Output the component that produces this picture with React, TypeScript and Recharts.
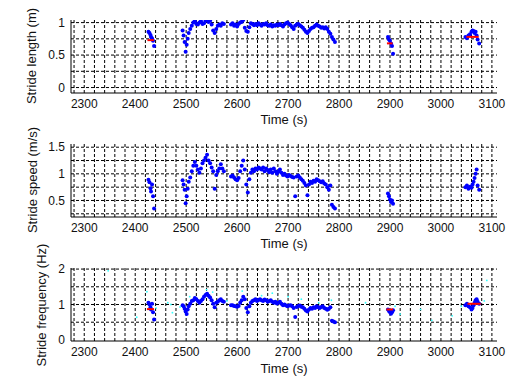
import React from 'react';
import { ScatterChart, Scatter, XAxis, YAxis, ReferenceLine } from 'recharts';

// stride start times (s), shared by the three panels
const strideTimes = [
  2426, 2428, 2430, 2431, 2433, 2435, 2437,
  2493, 2495, 2497, 2499, 2501, 2503, 2505, 2508, 2511, 2514, 2517, 2520, 2523, 2526, 2529, 2532,
  2535, 2538, 2541, 2544, 2547, 2550, 2553, 2556, 2559, 2562, 2565, 2568, 2571, 2574,
  2588, 2591, 2594, 2597, 2600, 2603, 2606, 2609, 2612, 2615, 2618, 2621, 2624, 2627, 2630, 2633,
  2636, 2639, 2642, 2645, 2648, 2651, 2654, 2657, 2660, 2663, 2666, 2669, 2672, 2675, 2678, 2681,
  2684, 2687, 2690, 2693, 2696, 2699, 2702, 2705, 2708, 2711, 2714, 2717, 2720, 2723, 2726, 2729,
  2732, 2735, 2738, 2741, 2744, 2747, 2750, 2753, 2756, 2759, 2762, 2765, 2768, 2771, 2774, 2777,
  2780, 2783, 2786, 2789, 2792,
  2896, 2898, 2900, 2902, 2904, 2906,
  3048, 3051, 3054, 3057, 3060, 3062, 3064, 3066, 3068, 3070, 3072, 3075,
];

const strideLength = [
  0.86, 0.84, 0.81, 0.78, 0.76, 0.72, 0.64,
  0.88, 0.8, 0.7, 0.55, 0.66, 0.75, 0.84, 0.9, 0.95, 1.0, 1.02, 0.98, 0.97, 1.0, 1.02, 0.98,
  0.99, 1.03, 1.04, 1.01, 1.03, 0.97, 0.88, 0.84, 0.9, 0.95, 0.97, 0.95, 0.99, 0.98,
  0.97, 0.99, 0.95, 0.97, 0.94, 0.98, 1.0, 1.01, 1.04, 0.92, 0.87, 0.86, 0.93, 0.99, 0.98, 0.96,
  0.98, 0.96, 0.99, 0.97, 0.95, 0.98, 0.97, 0.99, 0.96, 0.95, 0.97, 0.94, 0.96, 0.95, 0.97, 0.96,
  0.98, 0.96, 0.94, 0.97, 0.99, 1.0, 0.98, 0.96, 0.93, 0.9, 0.95, 0.97, 0.98, 0.96, 0.94, 0.92,
  0.89, 0.86, 0.84, 0.87, 0.9, 0.92, 0.93, 0.95, 0.97, 0.95, 0.94, 0.92, 0.93, 0.91, 0.93, 0.9,
  0.86, 0.83, 0.78, 0.74, 0.7,
  0.78, 0.74, 0.72, 0.68, 0.64, 0.52,
  0.78, 0.76, 0.8, 0.82, 0.86, 0.88, 0.87, 0.84, 0.86, 0.8, 0.74, 0.68,
];

const strideSpeed = [
  0.89, 0.84, 0.73, 0.67, 0.8, 0.58, 0.35,
  0.88, 0.8, 0.7, 0.45, 0.58, 0.72, 0.85, 0.93, 1.05, 1.15, 1.22, 1.15, 1.08, 1.02, 1.1, 1.2,
  1.25, 1.3, 1.36, 1.25, 1.2, 1.12, 1.05, 0.72, 0.98, 1.05, 1.1, 1.18, 1.1, 1.05,
  0.95, 0.97, 0.93, 0.9, 0.88, 0.92, 1.05, 1.15, 1.25, 1.08, 0.8, 0.65, 0.9, 1.02, 1.08, 1.05,
  1.1, 1.08, 1.12, 1.1, 1.08, 1.12, 1.05, 1.1, 1.07, 1.03, 1.08, 1.02, 1.1, 1.05, 1.0, 1.04,
  1.08, 1.02, 0.98, 1.0, 0.97, 0.95, 0.98, 0.96, 0.94, 0.93, 0.58, 0.95, 0.97, 0.93, 0.9, 0.87,
  0.83, 0.78, 0.6, 0.8, 0.85, 0.83, 0.87, 0.85, 0.9, 0.88, 0.86, 0.84, 0.86, 0.82, 0.8, 0.75,
  0.7, 0.78, 0.42, 0.38, 0.35,
  0.63, 0.58, 0.52, 0.47, 0.5, 0.44,
  0.75, 0.78, 0.72, 0.76, 0.74, 0.8, 0.85, 0.92, 1.0, 1.08, 0.78, 0.7,
];

const strideFreq = [
  1.05, 1.0, 0.92, 0.86, 1.02, 0.78, 0.58,
  0.98, 0.95, 0.88, 0.8, 0.73, 0.86, 0.95, 1.02, 1.1, 1.12, 1.18, 1.15, 1.1, 1.05, 1.1, 1.15,
  1.22, 1.27, 1.3, 1.25, 1.2, 1.12, 1.02, 0.92, 1.05, 1.08, 1.12, 1.15, 1.1, 1.08,
  0.98, 0.98, 0.96, 0.95, 0.94, 0.96, 1.05, 1.12, 1.22, 1.15, 0.9, 0.78, 0.95, 1.05, 1.1, 1.12,
  1.15, 1.1, 1.13, 1.15, 1.12, 1.1, 1.14, 1.12, 1.08, 1.1, 1.12, 1.08, 1.05, 1.08, 1.03, 1.05,
  1.08, 1.02, 0.98, 1.0, 0.97, 0.95, 0.97, 0.98, 0.95, 0.9, 0.65, 0.93, 0.96, 0.97, 0.94, 0.92,
  0.88, 0.83, 0.8, 0.86, 0.9, 0.88, 0.92, 0.9, 0.95, 0.92, 0.9, 0.93, 0.95, 0.9, 0.88, 0.85,
  0.88, 0.92, 0.54, 0.52, 0.5,
  0.86, 0.82, 0.78, 0.74, 0.78, 0.84,
  0.98, 1.02, 0.95, 0.92, 0.86, 0.9, 0.98, 1.05, 1.12, 1.15, 1.08, 1.02,
];

// raw (unfiltered) frequency samples, drawn faint cyan
const rawFreqTimes = [2347, 2403, 2423, 2441, 2464, 2470, 2473, 2488, 2507, 2540, 2552, 2580, 2610, 2648, 2669, 2700, 2726, 2760, 2785, 2852, 2910, 2920, 2960, 2982, 3022, 3040, 3085, 3090];
const rawFreqVals = [1.95, 0.64, 1.36, 0.9, 1.05, 1.0, 0.77, 0.93, 1.22, 1.42, 1.35, 1.1, 1.38, 1.25, 1.32, 1.22, 1.15, 1.05, 1.12, 1.05, 0.95, 0.73, 0.86, 0.55, 0.68, 0.95, 1.1, 1.68];

// red mean markers per walking bout: start, end, value
const lengthMeans = [
  [2424, 2437, 0.73],
  [2894, 2905, 0.68],
  [3050, 3074, 0.78],
];
const freqMeans = [
  [2423, 2437, 0.87],
  [2893, 2906, 0.86],
  [3052, 3078, 1.02],
];

const timeTicks = [2300, 2400, 2500, 2600, 2700, 2800, 2900, 3000, 3100];
const timeGrid = [2280, 2300, 2320, 2340, 2360, 2380, 2400, 2420, 2440, 2460, 2480, 2500, 2520, 2540, 2560, 2580, 2600, 2620, 2640, 2660, 2680, 2700, 2720, 2740, 2760, 2780, 2800, 2820, 2840, 2860, 2880, 2900, 2920, 2940, 2960, 2980, 3000, 3020, 3040, 3060, 3080, 3100];

const toPoints = (xs: number[], ys: number[]) => xs.map((t, i) => ({ t, v: ys[i] }));

const BlueDot = (props: any) => <circle cx={props.cx} cy={props.cy} r={2} fill="#0000ff" />;
const CyanDot = (props: any) => <circle cx={props.cx} cy={props.cy} r={0.9} fill="#33ffff" />;
const NoDot = () => null;

interface PanelProps {
  top: number;
  points: { t: number; v: number }[];
  domain: [number, number];
  ticks: number[];
  grid: number[];
  means?: number[][];
  raw?: { t: number; v: number }[];
}

function Panel({ top, points, domain, ticks, grid, means = [], raw }: PanelProps) {
  return (
    <div style={{ position: 'absolute', left: 0, top }}>
      <ScatterChart width={509} height={125} margin={{ top: 20, right: 12, bottom: 7, left: 0 }}>
        <XAxis
          dataKey="t"
          type="number"
          domain={[2274, 3110]}
          allowDataOverflow
          ticks={timeTicks}
          height={25}
          tickLine={false}
          tickSize={4}
          tickMargin={2}
          axisLine={{ stroke: '#000' }}
          tick={{ fill: '#111', fontSize: 12 }}
        />
        <YAxis
          dataKey="v"
          type="number"
          domain={domain}
          allowDataOverflow
          ticks={ticks}
          width={71}
          tickLine={false}
          tickSize={4}
          tickMargin={2}
          axisLine={{ stroke: '#000' }}
          tick={{ fill: '#111', fontSize: 12 }}
        />
        {timeGrid.map((x) => (
          <ReferenceLine key={'x' + x} x={x} stroke="#000" strokeDasharray="3 2" />
        ))}
        {grid.map((y) => (
          <ReferenceLine key={'y' + y} y={y} stroke="#000" strokeDasharray="3 2" />
        ))}
        {raw && <Scatter data={raw} shape={CyanDot} isAnimationActive={false} />}
        <Scatter data={points} shape={BlueDot} isAnimationActive={false} />
        {means.map(([t0, t1, y]) => (
          <Scatter
            key={'m' + t0}
            data={[{ t: t0, v: y }, { t: t1, v: y }]}
            line={{ stroke: '#ff0000', strokeWidth: 2 }}
            shape={NoDot}
            isAnimationActive={false}
          />
        ))}
      </ScatterChart>
    </div>
  );
}

const titleStyle: React.CSSProperties = {
  position: 'absolute',
  fontSize: 13,
  color: '#111',
  whiteSpace: 'nowrap',
};

function YTitle({ x, y, text }: { x: number; y: number; text: string }) {
  return (
    <div style={{ ...titleStyle, left: x, top: y, transform: 'translate(-50%, -50%) rotate(-90deg)' }}>
      {text}
    </div>
  );
}

function XTitle({ y }: { y: number }) {
  return (
    <div style={{ ...titleStyle, left: 284, top: y, transform: 'translate(-50%, -50%)' }}>
      Time (s)
    </div>
  );
}

export default function App() {
  return (
    <div
      style={{
        position: 'fixed',
        left: 0,
        top: 0,
        width: 509,
        height: 376,
        background: '#fff',
        fontFamily: '"Liberation Sans", Arial, sans-serif',
      }}
    >
      <Panel
        top={0}
        points={toPoints(strideTimes, strideLength)}
        domain={[-0.084, 1.04]}
        ticks={[0, 0.5, 1]}
        grid={[0, 0.25, 0.5, 0.75, 1]}
        means={lengthMeans}
      />
      <Panel
        top={124}
        points={toPoints(strideTimes, strideSpeed)}
        domain={[0.19, 1.56]}
        ticks={[0.5, 1, 1.5]}
        grid={[0.25, 0.5, 0.75, 1, 1.25, 1.5]}
      />
      <Panel
        top={248}
        points={toPoints(strideTimes, strideFreq)}
        domain={[-0.03, 2.03]}
        ticks={[0, 1, 2]}
        grid={[0.5, 1, 1.5, 2]}
        means={freqMeans}
        raw={toPoints(rawFreqTimes, rawFreqVals)}
      />
      <YTitle x={31} y={56} text="Stride length (m)" />
      <YTitle x={32} y={180} text="Stride speed (m/s)" />
      <YTitle x={41} y={305} text="Stride frequency (Hz)" />
      <XTitle y={119} />
      <XTitle y={243} />
      <XTitle y={368} />
    </div>
  );
}
